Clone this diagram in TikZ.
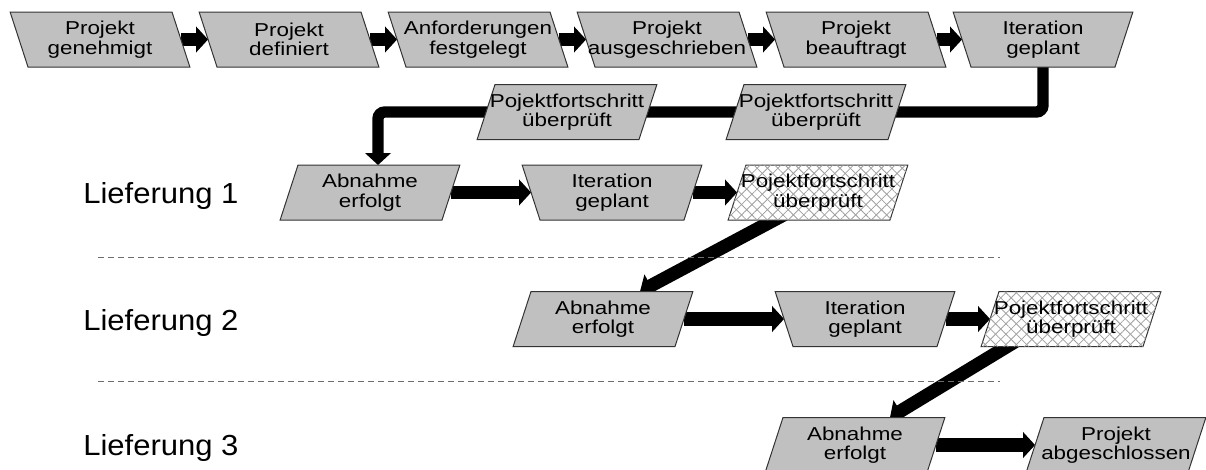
\documentclass[tikz,border=0pt]{standalone}
\usepackage{fontspec}
\setmainfont{Liberation Sans}
\newfontfamily\boxfont[FakeStretch=1.2]{Liberation Sans}
\newfontfamily\liefont[FakeStretch=1.07]{Liberation Sans}
\usetikzlibrary{shapes.geometric,arrows.meta,patterns.meta,backgrounds,calc}
\definecolor{boxgray}{RGB}{192,192,192}
\definecolor{hatchgray}{RGB}{160,160,160}
\definecolor{sepgray}{RGB}{110,110,110}
\begin{document}
\begin{tikzpicture}[x=0.75pt,y=-0.75pt,
  base/.style={trapezium, draw=black!80, line width=0.75pt,
    fill=boxgray, inner xsep=54pt, inner ysep=20.625pt, outer sep=0pt},
  boxL/.style={base, trapezium left angle=108, trapezium right angle=72},
  boxR/.style={base, trapezium left angle=72, trapezium right angle=108},
  boxT/.style={base, trapezium left angle=72, trapezium right angle=72, shape border rotate=180},
  hatch/.style={fill=white,
    postaction={pattern={Lines[angle=45,distance=5.5pt,line width=0.6pt]}, pattern color=hatchgray},
    postaction={pattern={Lines[angle=-45,distance=5.5pt,line width=0.6pt]}, pattern color=hatchgray}},
  lbl/.style={font=\boxfont\fontsize{14}{14.6}\selectfont, align=center, inner sep=0pt},
  lief/.style={font=\liefont\fontsize{21.75}{26}\selectfont, inner sep=0pt, anchor=base west},
  arr/.style={line width=10pt, -{Triangle[length=9pt,width=19pt]}},
  elbow/.style={line width=8.5pt, rounded corners=5pt, -{Triangle[length=9pt,width=19pt]}},
  sepline/.style={draw=sepgray, line width=0.75pt, dash pattern=on 4.5pt off 3pt}
]
\useasboundingbox (0,0) rectangle (1206,469);

% row 1
\node[boxL] (p1) at (100,39.5) {};
\node[boxL] (p2) at (289,39.5) {};
\node[boxL] (p3) at (478,39.5) {};
\node[boxL] (p4) at (667,39.5) {};
\node[boxL] (p5) at (856,39.5) {};
\node[boxT] (p6) at (1043,39.5) {};
% row 2
\node[boxR] (r1) at (567,112) {};
\node[boxR] (r2) at (816,112) {};
% row 3
\node[boxR] (a1) at (370,192.5) {};
\node[boxT] (i1) at (612,192.5) {};
\node[boxR,hatch] (h1) at (818,192.5) {};
% row 4
\node[boxR] (a2) at (603,319) {};
\node[boxT] (i2) at (865,319) {};
\node[boxR,hatch] (h2) at (1071,319) {};
% row 5
\node[boxR] (a3) at (855,445) {};
\node[boxR] (pe) at (1116,445) {};

% texts
\node[lbl] (tp1) at (p1) {Projekt\\genehmigt};
\node[lbl] (tp2) at (p2) {Projekt\\definiert};
\node[lbl] (tp3) at (p3) {Anforderungen\\festgelegt};
\node[lbl] (tp4) at (p4) {Projekt\\ausgeschrieben};
\node[lbl] (tp5) at (p5) {Projekt\\beauftragt};
\node[lbl] (tp6) at (p6) {Iteration\\geplant};
\node[lbl] (tr1) at (r1) {Pojektfortschritt\\überprüft};
\node[lbl] (tr2) at (r2) {Pojektfortschritt\\überprüft};
\node[lbl] (ta1) at (a1) {Abnahme\\erfolgt};
\node[lbl] (ti1) at (i1) {Iteration\\geplant};
\node[lbl] (th1) at (h1) {Pojektfortschritt\\überprüft};
\node[lbl] (ta2) at (a2) {Abnahme\\erfolgt};
\node[lbl] (ti2) at (i2) {Iteration\\geplant};
\node[lbl] (th2) at (h2) {Pojektfortschritt\\überprüft};
\node[lbl] (ta3) at (a3) {Abnahme\\erfolgt};
\node[lbl] (tpe) at (pe) {Projekt\\abgeschlossen};

% delivery labels
\node[lief] (l1) at (83,203) {Lieferung 1};
\node[lief] (l2) at (83,330) {Lieferung 2};
\node[lief] (l3) at (83,455) {Lieferung 3};

% separators
\coordinate (s1a) at (98,257);
\coordinate (s1b) at (1000,257);
\coordinate (s2a) at (98,381);
\coordinate (s2b) at (1000,381);
\draw[sepline] (s1a) -- (s1b);
\draw[sepline] (s2a) -- (s2b);

% connectors
\coordinate (h1o) at ($(h1.south)+(-44,0)$);
\coordinate (a2i) at ($(a2.north)+(37,0)$);
\coordinate (h2o) at ($(h2.south)+(-64,0)$);
\coordinate (a3i) at ($(a3.north)+(35,0)$);
\coordinate (a1i) at ($(a1.north)+(8,0)$);
\begin{scope}[on background layer]
\draw[arr] (p1) -- (p2);
\draw[arr] (p2) -- (p3);
\draw[arr] (p3) -- (p4);
\draw[arr] (p4) -- (p5);
\draw[arr] (p5) -- (p6);
\draw[elbow] (p6.south) |- (r2.center) -| (a1i);
\draw[arr] (a1) -- (i1);
\draw[arr] (i1) -- (h1);
\draw[arr] ($(h1o)!-0.2!(a2i)$) -- (a2i);
\draw[arr] (a2) -- (i2);
\draw[arr] (i2) -- (h2);
\draw[arr] ($(h2o)!-0.2!(a3i)$) -- (a3i);
\draw[arr] (a3) -- (pe);
\end{scope}
\end{tikzpicture}
\end{document}
